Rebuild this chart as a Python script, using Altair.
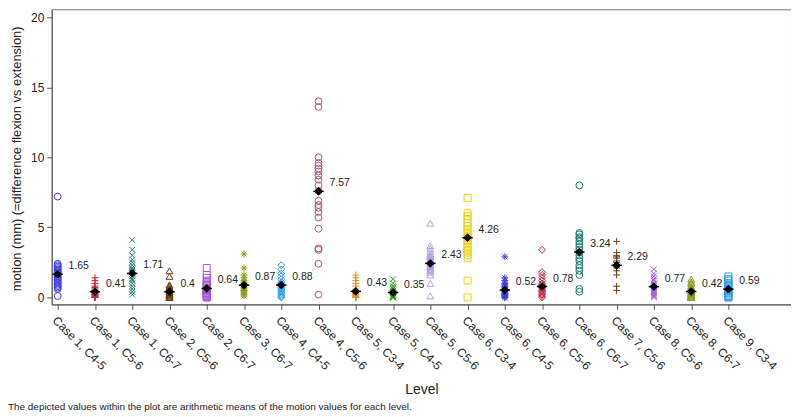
import altair as alt
import pandas as pd

categories = [
    "Case 1, C4-5", "Case 1, C5-6", "Case 1, C6-7", "Case 2, C5-6", "Case 2, C6-7",
    "Case 3, C6-7", "Case 4, C4-5", "Case 4, C5-6", "Case 5, C3-4", "Case 5, C4-5",
    "Case 5, C5-6", "Case 6, C3-4", "Case 6, C4-5", "Case 6, C5-6", "Case 6, C6-7",
    "Case 7, C5-6", "Case 8, C5-6", "Case 8, C6-7", "Case 9, C3-4",
]

v_c1_45 = [7.2, 2.4, 2.3, 2.2, 2.1, 2.0, 1.9, 1.8, 1.7, 1.6, 1.5, 1.4, 1.3, 1.2, 1.1, 1.0, 0.9, 0.8, 0.7, 0.6, 0.1]
v_c1_56 = [1.4, 1.2, 1.0, 0.8, 0.7, 0.6, 0.5, 0.4, 0.4, 0.3, 0.3, 0.2, 0.2, 0.2, 0.1, 0.1, 0.1, 0.0, 0.0, 0.0, 0.0]
v_c1_67 = [4.1, 3.4, 3.0, 2.7, 2.5, 2.3, 2.1, 2.0, 1.9, 1.8, 1.7, 1.5, 1.3, 1.2, 1.0, 0.8, 0.6, 0.4, 0.2]
v_c2_56 = [1.9, 1.5, 0.9, 0.8, 0.7, 0.6, 0.5, 0.4, 0.3, 0.3, 0.2, 0.2, 0.1, 0.1, 0.0, 0.0, 0.0, 0.0]
v_c2_67 = [2.1, 1.6, 1.4, 1.2, 1.0, 0.9, 0.8, 0.7, 0.6, 0.5, 0.4, 0.3, 0.3, 0.2, 0.2, 0.1, 0.0, 0.0]
v_c3_67 = [3.1, 2.1, 1.6, 1.4, 1.2, 1.1, 1.0, 0.9, 0.8, 0.7, 0.6, 0.5, 0.5, 0.4, 0.3, 0.2, 0.1]
v_c4_45 = [2.3, 2.0, 1.7, 1.5, 1.3, 1.1, 1.0, 0.9, 0.8, 0.7, 0.6, 0.5, 0.4, 0.3, 0.2, 0.1, 0.0, 0.0]
v_c4_56 = [14.0, 13.6, 10.0, 9.6, 9.4, 9.2, 9.0, 8.7, 8.4, 8.0, 7.6, 6.9, 6.6, 6.4, 6.1, 5.7, 4.9, 3.5, 3.4, 2.4, 0.2]
v_c5_34 = [1.6, 1.4, 1.2, 1.0, 0.8, 0.6, 0.5, 0.4, 0.3, 0.3, 0.2, 0.2, 0.1, 0.1, 0.0, 0.0, 0.0, 0.0]
v_c5_45 = [1.3, 1.0, 0.8, 0.7, 0.6, 0.5, 0.4, 0.3, 0.3, 0.2, 0.2, 0.1, 0.1, 0.0, 0.0, 0.0, 0.0]
v_c5_56 = [5.3, 3.7, 3.5, 3.3, 3.1, 3.0, 2.9, 2.8, 2.7, 2.6, 2.5, 2.4, 2.3, 2.2, 2.1, 2.0, 1.9, 1.8, 1.6, 1.0, 0.1]
v_c6_34 = [7.1, 6.0, 5.8, 5.6, 5.3, 5.1, 4.9, 4.7, 4.5, 4.3, 4.2, 4.0, 3.8, 3.6, 3.4, 3.2, 3.0, 2.8, 1.2, 0.0]
v_c6_45 = [2.9, 1.4, 1.2, 1.0, 0.9, 0.8, 0.7, 0.6, 0.5, 0.4, 0.3, 0.3, 0.2, 0.2, 0.1, 0.1, 0.0, 0.0]
v_c6_56 = [3.4, 1.8, 1.6, 1.4, 1.2, 1.0, 0.9, 0.8, 0.7, 0.6, 0.5, 0.4, 0.3, 0.2, 0.1, 0.0]
v_c6_67 = [8.0, 4.6, 4.5, 4.3, 4.2, 4.0, 3.8, 3.6, 3.4, 3.2, 3.0, 2.8, 2.6, 2.3, 2.1, 1.9, 1.6, 0.6, 0.4]
v_c7_56 = [4.0, 3.2, 3.0, 2.9, 2.8, 2.6, 2.5, 2.3, 2.1, 1.9, 1.6, 0.8, 0.5]
v_c8_56 = [2.0, 1.7, 1.5, 1.3, 1.2, 1.0, 0.9, 0.8, 0.7, 0.6, 0.5, 0.4, 0.3, 0.2, 0.1, 0.0]
v_c8_67 = [1.3, 1.1, 1.0, 0.8, 0.7, 0.6, 0.5, 0.4, 0.3, 0.3, 0.2, 0.2, 0.1, 0.1, 0.0, 0.0, 0.0]
v_c9_34 = [1.5, 1.3, 1.2, 1.0, 0.9, 0.8, 0.7, 0.6, 0.5, 0.4, 0.3, 0.2, 0.1, 0.0, 0.0]

values = [v_c1_45, v_c1_56, v_c1_67, v_c2_56, v_c2_67, v_c3_67, v_c4_45, v_c4_56,
          v_c5_34, v_c5_45, v_c5_56, v_c6_34, v_c6_45, v_c6_56, v_c6_67, v_c7_56,
          v_c8_56, v_c8_67, v_c9_34]

means = [1.65, 0.41, 1.71, 0.4, 0.64, 0.87, 0.88, 7.57, 0.43, 0.35, 2.43, 4.26,
         0.52, 0.78, 3.24, 2.29, 0.77, 0.42, 0.59]

palette = ["#3b3be3", "#c8203f", "#1b7a6b", "#6b3e0c", "#a94fe0", "#8c9a18",
           "#2c9bf0", "#b0527c", "#e0901c", "#2f9e2a", "#b49cf0", "#f0d010"]

PLUS = "M-1,0L1,0M0,-1L0,1"
XMARK = "M-0.85,-0.85L0.85,0.85M-0.85,0.85L0.85,-0.85"
STAR = "M-1,0L1,0M0,-1L0,1M-0.7,-0.7L0.7,0.7M-0.7,0.7L0.7,-0.7"
shape_cycle = ["circle", PLUS, XMARK, "triangle-up", "square", STAR, "diamond"]

footnote = "The depicted values within the plot are arithmetic means of the motion values for each level."
x_title = "Level"
y_title = "motion (mm) (=difference flexion vs extension)"

rows = []
for i, (cat, vals) in enumerate(zip(categories, values)):
    for v in vals:
        rows.append({"idx": i, "level": cat, "motion": v})
df = pd.DataFrame(rows)
mdf = pd.DataFrame({"idx": list(range(len(categories))), "level": categories,
                    "mean": means, "label": [str(m) for m in means]})

color_range = [palette[i % len(palette)] for i in range(len(categories))]
shape_range = [shape_cycle[i % len(shape_cycle)] for i in range(len(categories))]

label_array = "[" + ",".join("'%s'" % c for c in categories) + "]"

W, H = 744, 297
x_scale = alt.Scale(domain=[-0.16, 19.68], nice=False, zero=False)
y_scale = alt.Scale(domain=[-0.5, 20.57], nice=False, zero=False)

x_axis = alt.Axis(values=list(range(len(categories))), labelExpr=label_array + "[datum.value]",
                  labelAngle=45, labelAlign="left", labelBaseline="top", labelPadding=5,
                  tickSize=5, grid=False, title=x_title, titleFontSize=14, titleFontWeight="normal",
                  titleY=86, titleBaseline="middle", labelFontSize=12, labelOverlap=False)
y_axis = alt.Axis(values=[0, 5, 10, 15, 20], tickSize=5, grid=False, labelPadding=3,
                  labelFontSize=12, title=y_title, titleFontSize=13, titleFontWeight="normal",
                  titleX=-35, titleY=150, titleBaseline="middle", titleAlign="center")

points = alt.Chart(df).mark_point(filled=False, size=48, strokeWidth=1, opacity=1).encode(
    x=alt.X("idx:Q", scale=x_scale, axis=x_axis),
    y=alt.Y("motion:Q", scale=y_scale, axis=y_axis),
    color=alt.Color("level:N", scale=alt.Scale(domain=categories, range=color_range), legend=None),
    shape=alt.Shape("level:N", scale=alt.Scale(domain=categories, range=shape_range), legend=None),
)

mean_pts = alt.Chart(mdf).mark_point(filled=True, shape="diamond", size=60, color="black",
                                     stroke="black", strokeWidth=1, opacity=1).encode(
    x=alt.X("idx:Q", scale=x_scale),
    y=alt.Y("mean:Q", scale=y_scale),
)

mean_bar = alt.Chart(mdf).mark_point(filled=False, shape="M-1,0L1,0", size=110, color="black",
                                     strokeWidth=1.5, opacity=1).encode(
    x=alt.X("idx:Q", scale=x_scale),
    y=alt.Y("mean:Q", scale=y_scale),
)

mean_labels = alt.Chart(mdf).mark_text(align="left", baseline="middle", dx=11, dy=-8,
                                       fontSize=10.5, color="#222").encode(
    x=alt.X("idx:Q", scale=x_scale),
    y=alt.Y("mean:Q", scale=y_scale),
    text="label:N",
)

note = alt.Chart(pd.DataFrame({"t": [footnote]})).mark_text(
    align="left", baseline="middle", fontSize=10, color="#222").encode(
    x=alt.value(-44), y=alt.value(400), text="t:N")

chart = alt.layer(points, mean_bar, mean_pts, mean_labels, note).properties(
    width=W, height=H,
    autosize=alt.AutoSizeParams(type="none"),
    padding={"left": 44, "top": 0, "right": 0, "bottom": 109},
).configure(font="Liberation Sans").configure_view(
    stroke="#777", strokeWidth=1
).configure_axis(
    domainColor="#555", tickColor="#555", labelColor="#222", titleColor="#222",
    labelFont="Liberation Sans", titleFont="Liberation Sans"
)

chart.save("out.html", embed_options={"renderer": "svg", "actions": False})
